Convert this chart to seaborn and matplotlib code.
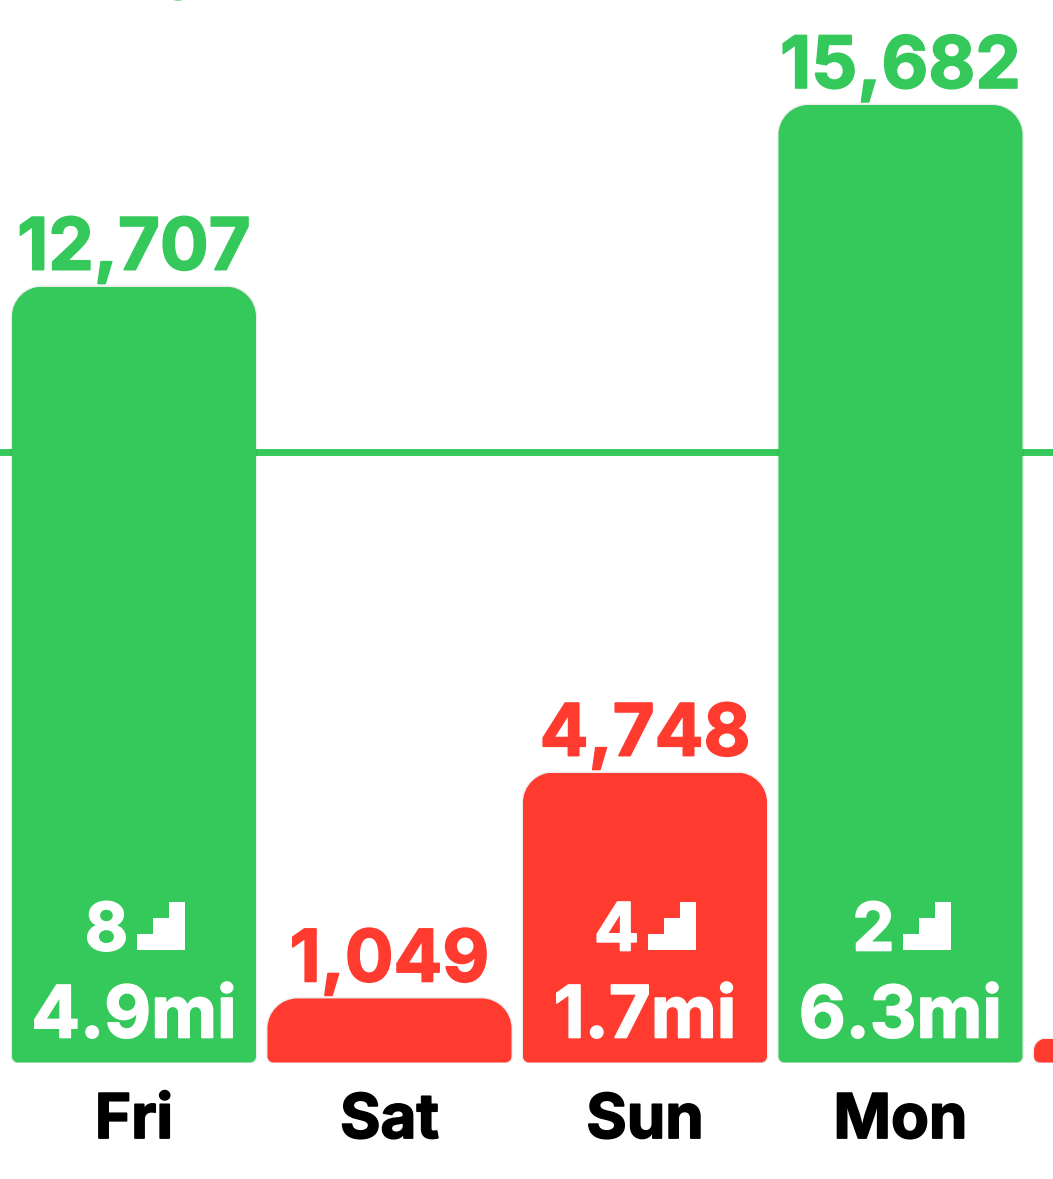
import matplotlib
matplotlib.use("Agg")
import matplotlib.pyplot as plt
import matplotlib.patheffects as pe
from matplotlib.path import Path
from matplotlib.patches import PathPatch, Polygon, Ellipse
from matplotlib.transforms import IdentityTransform
import seaborn as sns

days = ["Fri", "Sat", "Sun", "Mon", "Tue"]
steps = [12707, 1049, 4748, 15682, 390]
flights = [8, None, 4, 2, None]
miles = ["4.9mi", None, "1.7mi", "6.3mi", None]
goal = 10000

GREEN = "#35C95C"
RED = "#FF3B30"
W, H = 1053, 1179
BASE = 1062.5
UNIT_X = 255.5
UNIT_Y = 957.5 / 15682

sns.set_theme(style="white")
plt.rcParams["font.family"] = ["Inter", "DejaVu Sans"]

fig = plt.figure(figsize=(W / 100, H / 100), dpi=100, facecolor="white")
ax = fig.add_axes([0, (H - BASE) / H, 1, BASE / H])
colors = [GREEN if s >= goal else RED for s in steps]
sns.barplot(x=days, y=steps, hue=days, palette=colors, dodge=False, width=0.955,
            legend=False, ax=ax, zorder=3, linewidth=0, saturation=1)
ax.set_xlim(-134 / UNIT_X, (W - 134) / UNIT_X)
ax.set_ylim(0, BASE / UNIT_Y)
for s in ax.spines.values():
    s.set_visible(False)
ax.set_yticks([])
ax.tick_params(axis="x", length=0, pad=22, labelsize=44.5, colors="black")


def rnd(color, w):
    return [pe.Stroke(linewidth=w, foreground=color, joinstyle="round", capstyle="round"), pe.Normal()]


for t in ax.get_xticklabels():
    t.set_fontweight("bold")
    t.set_path_effects(rnd("black", 1.2))
ax.axhline(goal, color=GREEN, lw=5.0, zorder=1)


def rounded(x0, x1, top, r_bot=6):
    r_top = min(30, top * UNIT_Y * 0.5)
    rx, ry = r_top / UNIT_X, r_top / UNIT_Y
    bx, by = r_bot / UNIT_X, r_bot / UNIT_Y
    by = min(by, top / 2)
    k = 0.45
    verts = [
        (x0 + bx, 0), (x1 - bx, 0),
        (x1 - bx * k, 0), (x1, by * k), (x1, by),
        (x1, top - ry),
        (x1, top - ry * k), (x1 - rx * k, top), (x1 - rx, top),
        (x0 + rx, top),
        (x0 + rx * k, top), (x0, top - ry * k), (x0, top - ry),
        (x0, by),
        (x0, by * k), (x0 + bx * k, 0), (x0 + bx, 0),
    ]
    codes = [Path.MOVETO, Path.LINETO,
             Path.CURVE4, Path.CURVE4, Path.CURVE4,
             Path.LINETO,
             Path.CURVE4, Path.CURVE4, Path.CURVE4,
             Path.LINETO,
             Path.CURVE4, Path.CURVE4, Path.CURVE4,
             Path.LINETO,
             Path.CURVE4, Path.CURVE4, Path.CURVE4]
    return Path(verts, codes)


fig.canvas.draw()
bars = [b for c in ax.containers for b in c]
for bar in bars:
    x0, x1 = bar.get_x(), bar.get_x() + bar.get_width()
    p = rounded(x0, x1, bar.get_height())
    ax.add_patch(PathPatch(p, fc="none", ec=(0, 0, 0, 0.07), lw=2.0, zorder=2))
    bar.set_clip_path(p, ax.transData)


def txt(s, x, y, dy, color, size, ha="center", dx=0, stroke=1.2):
    ax.annotate(s, (x, y), xytext=(dx, dy), textcoords="offset pixels", ha=ha, va="baseline",
                color=color, fontsize=size, fontweight="bold", zorder=5, annotation_clip=False,
                path_effects=rnd(color, stroke))


for i, (d, s, f, m, c) in enumerate(zip(days, steps, flights, miles, colors)):
    if d == "Tue":
        continue
    txt(f"{s:,}", i, s, 17, c, 52)
    if m:
        txt(m, i, 0, 25, "white", 52)
    if f is not None:
        txt(str(f), i, 0, 112, "white", 48, ha="right", dx=-6)
        cx, cy = ax.transData.transform((i, 0))
        ys = cy + 112.5
        stair = [(2.5, 0), (50.5, 0), (50.5, 48), (34.5, 48), (34.5, 32), (18.5, 32), (18.5, 16), (2.5, 16)]
        ax.add_patch(Polygon([(cx + a, ys + b) for a, b in stair], closed=True, fc="white", ec="none",
                             transform=IdentityTransform(), zorder=5))

# clipped remnant of an element above the crop
ax.add_patch(Ellipse((178, H + 1), 10, 4, fc=GREEN, ec="none", alpha=0.6,
                     transform=IdentityTransform(), zorder=5))

fig.savefig("out.png", dpi=100, facecolor="white")
